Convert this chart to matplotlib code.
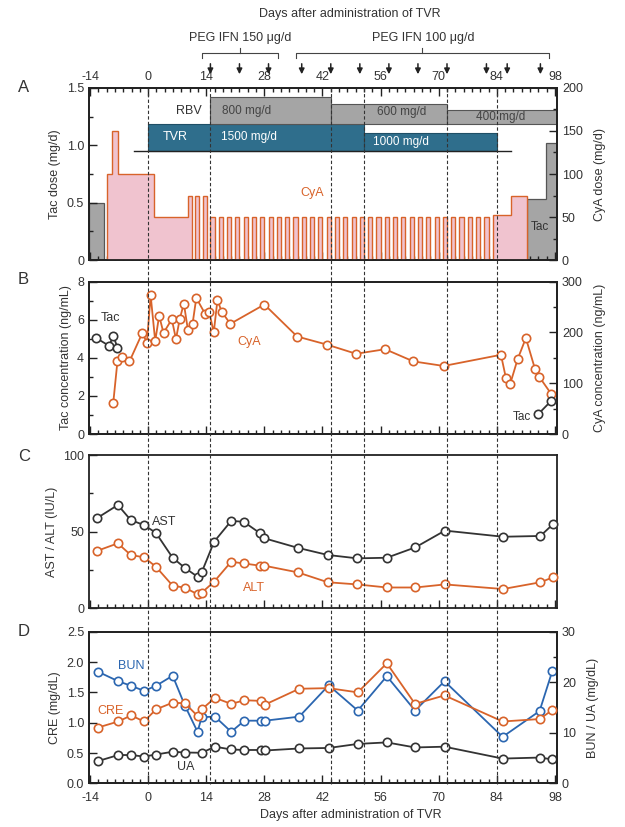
import numpy as np
import matplotlib.pyplot as plt
import matplotlib.transforms as mtransforms
from matplotlib.ticker import MultipleLocator, FixedLocator, FixedFormatter

plt.rcParams['font.family'] = ['Liberation Sans', 'DejaVu Sans']
plt.rcParams['axes.unicode_minus'] = False

# ---------------- data ----------------
# panel A: dosing
tac_pre_edges = [-14.2, -10.7]
tac_pre_dose = [0.5]
tac_post_edges = [91.3, 95.9, 98.5]
tac_post_dose = [0.53, 1.02]

cya_pre_edges = [-10, -8.6, -7.2, 1.3, 9.5, 10.5]
cya_pre_dose = [100, 150, 100, 50, 75]
cya_alt75_days = [11.3, 13.1]
cya_alt50_days = [15, 17, 19, 21, 23, 25, 27, 29, 31, 33, 35, 37, 39, 41, 43, 45, 47,
                  49, 51, 53, 55, 57, 59, 61, 63, 65, 67, 69, 71, 73, 75, 77, 79, 81]
cya_post_edges = [83.2, 87.4, 91.3]
cya_post_dose = [52, 75]

tvr_edges = [0, 52, 84]
tvr_dose = [1500, 1000]
rbv_edges = [15, 44, 72, 98.5]
rbv_dose = [800, 600, 400]

peg_days = [15, 22, 29, 37, 44, 51, 58, 65, 72, 81.5, 86.5, 94.5]
event_days = [0, 15, 44, 52, 72, 84]

# panel B: trough concentrations
tac_c_days = [-12.5, -9.4, -8.4, -7.4]
tac_c = [5.04, 4.63, 5.16, 4.54]
tac_c2_days = [94.0, 97.1]
tac_c2 = [1.05, 1.74]
cya_c_days = [-8.4, -7.4, -6.4, -4.5, -1.4, -0.3, 0.6, 1.7, 2.65, 3.7, 5.7, 6.7, 7.6, 8.6,
              9.6, 10.7, 11.6, 13.7, 14.7, 15.8, 16.7, 17.7, 19.8, 28, 35.9, 43.1, 50.1,
              57.1, 63.9, 71.2, 85, 86.2, 87.2, 89, 91, 93.2, 94.2, 97.1]
cya_c = [62, 143, 151, 143, 199, 180, 273, 183, 233, 199, 226, 187, 226, 257,
         204, 217, 268, 237, 241, 200, 264, 241, 217, 255, 192, 176, 158,
         167, 143, 134, 156, 110, 98, 147, 189, 128, 113, 79]

# panel C: liver enzymes
lab_days = [-12.4, -7.3, -4.2, -1, 1.85, 5.9, 8.8, 11.9, 12.9, 15.9, 20, 23, 27, 28,
            36, 43.3, 50.4, 57.5, 64.4, 71.5, 85.5, 94.5, 97.5]
ast = [58.7, 67.4, 57.6, 54.3, 49.3, 33, 26.5, 20.6, 23.5, 43.5, 57, 56.5, 48.9, 45.7,
       39.5, 34.8, 32.6, 33, 39.8, 50.7, 46.7, 47.2, 54.8]
alt = [37.4, 42.4, 34.8, 33.3, 27.2, 14.8, 13.5, 9.2, 10.2, 17.4, 30.4, 29.3, 27.8, 27.8,
       23.5, 17, 15.6, 13.6, 13.6, 15.6, 12.6, 17, 20.2]

# panel D: renal function
ren_days = [-12.1, -7.2, -4.1, -1, 1.9, 5.9, 8.9, 11.9, 12.9, 16.1, 20, 23.2, 27.2, 28.2,
            36.4, 43.5, 50.5, 57.5, 64.3, 71.4, 85.4, 94.3, 97.4]
bun = [22.1, 20.2, 19.3, 18.3, 19.3, 21.3, 15.3, 10.2, 13.1, 13.2, 10.2, 12.4, 12.4, 12.4,
       13.2, 19.4, 14.4, 21.2, 14.4, 20.2, 9.2, 14.3, 22.3]
cre = [0.92, 1.02, 1.12, 1.02, 1.22, 1.33, 1.32, 1.11, 1.22, 1.41, 1.31, 1.37, 1.36, 1.30,
       1.56, 1.57, 1.50, 1.98, 1.31, 1.45, 1.02, 1.06, 1.21]
ua_days = [-12.1, -7.2, -4.1, -1, 1.9, 5.9, 8.9, 12.9, 16.1, 20, 23.2, 27.2, 28.2,
           36.4, 43.5, 50.5, 57.5, 64.3, 71.4, 85.4, 94.3, 97.4]
ua = [4.4, 5.6, 5.6, 5.3, 5.7, 6.25, 6.1, 6.05, 7.25, 6.7, 6.6, 6.6, 6.5,
      6.9, 7.0, 7.8, 8.1, 7.1, 7.25, 4.9, 5.1, 4.75]

# ---------------- style ----------------
ORANGE = '#d8632a'
BLUE = '#2b66b0'
BLACK = '#333333'
PINK = '#f0c3cf'
TEAL = '#2f6e8c'
GRAY = '#a5a5a5'
XLIM = (-14.25, 98.5)


def style(ax, xlabels=False):
    for s in ax.spines.values():
        s.set_linewidth(1.3)
        s.set_color('#222222')
    ax.set_xlim(*XLIM)
    ax.xaxis.set_major_locator(MultipleLocator(14))
    ax.xaxis.set_minor_locator(MultipleLocator(2))
    ax.tick_params(which='both', direction='in', labelsize=9, labelcolor=BLACK,
                   color='#222222', width=1)
    ax.tick_params(which='major', length=6)
    ax.tick_params(which='minor', length=3)
    if not xlabels:
        ax.tick_params(axis='x', labelbottom=False)


def step_poly(edges, heights):
    xs = [edges[0]]
    ys = [0]
    for i, h in enumerate(heights):
        xs += [edges[i], edges[i + 1]]
        ys += [h, h]
    xs.append(edges[-1])
    ys.append(0)
    return xs, ys


def circles(ax, x, y, color):
    ax.plot(x, y, '-o', color=color, lw=1.3, ms=6, mfc='white', mec=color, mew=1.2,
            clip_on=False, zorder=3)


fig = plt.figure(figsize=(6.25, 8.27), dpi=100)
axA = fig.add_axes([0.1424, 0.6856, 0.7488, 0.208])
axB = fig.add_axes([0.1424, 0.4752, 0.7488, 0.1842])
axC = fig.add_axes([0.1424, 0.2644, 0.7488, 0.1854])
axD = fig.add_axes([0.1424, 0.0528, 0.7488, 0.1833])

# ---------------- panel A ----------------
axA2 = axA.twinx()
for a in (axA, axA2):
    style(a)
axA.tick_params(axis='x', which='both', top=True, labeltop=True)
axA.set_ylim(0, 1.5)
axA.yaxis.set_major_locator(FixedLocator([0, 0.5, 1.0, 1.5]))
axA.yaxis.set_major_formatter(FixedFormatter(['0', '0.5', '1.0', '1.5']))
axA.yaxis.set_minor_locator(MultipleLocator(0.25))
axA2.set_ylim(0, 200)
axA2.yaxis.set_major_locator(MultipleLocator(50))
axA2.yaxis.set_minor_locator(MultipleLocator(25))
axA.set_ylabel('Tac dose (mg/d)', fontsize=9, color=BLACK)
axA2.set_ylabel('CyA dose (mg/d)', fontsize=9, color=BLACK, labelpad=8)

for e, d in ((tac_pre_edges, tac_pre_dose), (tac_post_edges, tac_post_dose)):
    xs, ys = step_poly(e, d)
    axA.fill(xs, ys, facecolor=GRAY, edgecolor='#555555', lw=0.9, zorder=1)
for e, d in ((cya_pre_edges, cya_pre_dose), (cya_post_edges, cya_post_dose)):
    xs, ys = step_poly(e, d)
    axA2.fill(xs, ys, facecolor=PINK, edgecolor=ORANGE, lw=1.0, zorder=1)
axA2.bar(cya_alt75_days, [75] * len(cya_alt75_days), width=1.0, align='edge',
         color=PINK, edgecolor=ORANGE, lw=1.0, zorder=1)
axA2.bar(cya_alt50_days, [50] * len(cya_alt50_days), width=1.0, align='edge',
         color=PINK, edgecolor=ORANGE, lw=1.0, zorder=1)

tvr_base = 0.95
tvr_h = [d * 0.00016 for d in tvr_dose]
axA.bar(tvr_edges[:-1], tvr_h, width=np.diff(tvr_edges), bottom=tvr_base, align='edge',
        color=TEAL, edgecolor='#1f4f66', lw=0.8, zorder=2)
rbv_base = tvr_base + tvr_h[0]
rbv_h = [d * 0.000288 for d in rbv_dose]
axA.bar(rbv_edges[:-1], rbv_h, width=np.diff(rbv_edges), bottom=rbv_base, align='edge',
        color=GRAY, edgecolor='#555555', lw=0.8, zorder=2)
axA.plot([-3.4, 87.4], [tvr_base, tvr_base], color='#222222', lw=1.0, zorder=2)

axA.text(9.7, 1.30, 'RBV', ha='center', va='center', fontsize=9, color=BLACK)
axA.text(23.8, 1.30, '800 mg/d', ha='center', va='center', fontsize=8.5, color='#444444')
axA.text(61, 1.29, '600 mg/d', ha='center', va='center', fontsize=8.5, color='#444444')
axA.text(85, 1.25, '400 mg/d', ha='center', va='center', fontsize=8.5, color='#444444')
axA.text(6.5, 1.07, 'TVR', ha='center', va='center', fontsize=9, color='white')
axA.text(24.2, 1.07, '1500 mg/d', ha='center', va='center', fontsize=8.5, color='white')
axA.text(61, 1.03, '1000 mg/d', ha='center', va='center', fontsize=8.5, color='white')
axA.text(39.5, 0.58, 'CyA', ha='center', va='center', fontsize=9, color=ORANGE)
axA.text(94.4, 0.29, 'Tac', ha='center', va='center', fontsize=8.5, color=BLACK, zorder=4)

# PEG IFN annotations above panel A
trans = mtransforms.blended_transform_factory(axA.transData, fig.transFigure)
fy = lambda px: 1 - px / 827.0
for d in peg_days:
    axA.annotate('', xy=(d, fy(77)), xytext=(d, fy(61)), xycoords=trans, textcoords=trans,
                 arrowprops=dict(arrowstyle='-|>', color='#222222', lw=1.1, mutation_scale=8),
                 annotation_clip=False)
for x0, x1, xc in ((13, 31.2, 22.2), (35.6, 96.6, 66)):
    axA.plot([x0, x0, x1, x1], [fy(58), fy(53), fy(53), fy(58)], color='#444444', lw=0.8,
             transform=trans, clip_on=False)
    axA.plot([xc, xc], [fy(53), fy(48)], color='#444444', lw=0.8, transform=trans,
             clip_on=False)
fig.text(240 / 625, fy(38), 'PEG IFN 150 \u03bcg/d', ha='center', va='center', fontsize=9,
         color=BLACK)
fig.text(423 / 625, fy(38), 'PEG IFN 100 \u03bcg/d', ha='center', va='center', fontsize=9,
         color=BLACK)
fig.text(350 / 625, fy(14), 'Days after administration of TVR', ha='center', va='center',
         fontsize=9, color=BLACK)

# ---------------- panel B ----------------
axB2 = axB.twinx()
for a in (axB, axB2):
    style(a)
axB.set_ylim(0, 8)
axB.yaxis.set_major_locator(MultipleLocator(2))
axB.yaxis.set_minor_locator(MultipleLocator(1))
axB2.set_ylim(0, 300)
axB2.yaxis.set_major_locator(MultipleLocator(100))
axB2.yaxis.set_minor_locator(MultipleLocator(50))
axB.set_ylabel('Tac concentration (ng/mL)', fontsize=9, color=BLACK)
axB2.set_ylabel('CyA concentration (ng/mL)', fontsize=9, color=BLACK, labelpad=8)
circles(axB2, cya_c_days, cya_c, ORANGE)
circles(axB, tac_c_days, tac_c, BLACK)
circles(axB, tac_c2_days, tac_c2, BLACK)
axB.set_zorder(axB2.get_zorder() + 1)
axB.patch.set_visible(False)
axB.text(-9, 6.1, 'Tac', ha='center', va='center', fontsize=9, color=BLACK)
axB.text(24.3, 4.85, 'CyA', ha='center', va='center', fontsize=9, color=ORANGE)
axB.text(90, 0.9, 'Tac', ha='center', va='center', fontsize=8.5, color=BLACK)

# ---------------- panel C ----------------
style(axC)
axC.set_ylim(0, 100)
axC.yaxis.set_major_locator(MultipleLocator(50))
axC.yaxis.set_minor_locator(MultipleLocator(25))
axC.set_ylabel('AST / ALT (IU/L)', fontsize=9, color=BLACK)
circles(axC, lab_days, ast, BLACK)
circles(axC, lab_days, alt, ORANGE)
axC.text(3.9, 56.5, 'AST', ha='center', va='center', fontsize=9, color=BLACK)
axC.text(25.6, 13.5, 'ALT', ha='center', va='center', fontsize=9, color=ORANGE)

# ---------------- panel D ----------------
axD2 = axD.twinx()
style(axD, xlabels=True)
style(axD2)
axD.set_ylim(0, 2.5)
axD.yaxis.set_major_locator(FixedLocator([0, 0.5, 1.0, 1.5, 2.0, 2.5]))
axD.yaxis.set_major_formatter(FixedFormatter(['0.0', '0.5', '1.0', '1.5', '2.0', '2.5']))
axD.yaxis.set_minor_locator(FixedLocator([]))
axD2.set_ylim(0, 30)
axD2.yaxis.set_major_locator(MultipleLocator(10))
axD2.yaxis.set_minor_locator(MultipleLocator(5))
axD.set_ylabel('CRE (mg/dL)', fontsize=9, color=BLACK)
axD2.set_ylabel('BUN / UA (mg/dL)', fontsize=9, color=BLACK, labelpad=8)
axD.set_xticks([-14, 0, 14, 28, 42, 56, 70, 84, 98])
axD.tick_params(axis='x', pad=6)
circles(axD2, ua_days, ua, BLACK)
circles(axD2, ren_days, bun, BLUE)
circles(axD, ren_days, cre, ORANGE)
axD.set_zorder(axD2.get_zorder() + 1)
axD.patch.set_visible(False)
axD.text(-4.1, 1.94, 'BUN', ha='center', va='center', fontsize=9, color=BLUE)
axD.text(-9, 1.2, 'CRE', ha='center', va='center', fontsize=9, color=ORANGE)
axD.text(9.1, 0.27, 'UA', ha='center', va='center', fontsize=9, color=BLACK)
fig.text(351 / 625, fy(815), 'Days after administration of TVR', ha='center', va='center',
         fontsize=9, color=BLACK)

# panel letters
for lab, py in (('A', 88), ('B', 280), ('C', 456), ('D', 631)):
    fig.text(18 / 625, fy(py), lab, ha='left', va='center', fontsize=12, color=BLACK)

# vertical dashed event lines through all panels
for d in event_days:
    fig.add_artist(plt.Line2D([d, d], [fy(88), fy(784)], transform=trans, color='#333333',
                              lw=0.8, ls=(0, (3, 2)), zorder=5))

fig.savefig('out.png', dpi=100)
